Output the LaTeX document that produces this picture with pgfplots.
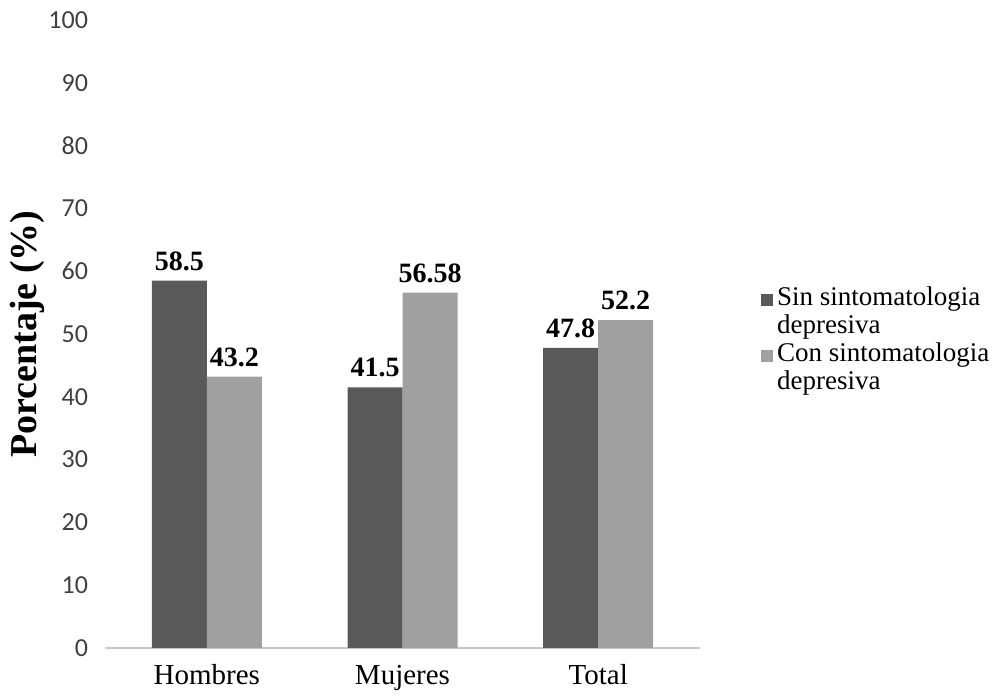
\documentclass[border=0pt]{standalone}
\usepackage{pgfplots}
\pgfplotsset{compat=1.18}
\usepackage{fontspec}
\setmainfont{Liberation Serif}
\newfontfamily\tickfont{Carlito}
\definecolor{darkbar}{HTML}{595959}
\definecolor{lightbar}{HTML}{A0A0A0}
\definecolor{axisgray}{HTML}{C8C8C8}
\definecolor{ticktext}{HTML}{404040}
\begin{document}
\begin{tikzpicture}
\path[use as bounding box] (-52.5pt,-25.5pt) rectangle (451pt,324pt);
\begin{axis}[
  at={(0pt,0pt)}, anchor=south west,
  scale only axis,
  width=297.5pt, height=314pt,
  xmin=-0.52, xmax=2.52,
  ymin=0, ymax=100,
  ytick={0,10,...,100},
  xtick={0,1,2},
  xticklabels={Hombres,Mujeres,Total},
  axis x line*=bottom,
  axis y line*=left,
  y axis line style={draw=none},
  x axis line style={draw=axisgray, line width=0.8pt, -},
  major tick length=0pt,
  tick style={draw=none},
  yticklabel style={font=\tickfont\fontsize{13}{15}\selectfont, text=ticktext, xshift=-5pt},
  xticklabel style={font=\fontsize{14.5}{16}\selectfont, anchor=base, yshift=-18.5pt},
  /pgf/number format/assume math mode=true,
  ylabel={\textbf{Porcentaje (\%)}},
  ylabel style={font=\fontsize{19}{22}\selectfont, at={(axis description cs:-0.13,0.5)}, anchor=center},
  ybar=0pt, bar width=27.5pt,
  nodes near coords,
  point meta=explicit symbolic,
  nodes near coords style={font=\bfseries\fontsize{14}{16}\selectfont, anchor=south, yshift=1.5pt},
  legend style={at={(axis description cs:1.092,0.588)}, anchor=north west, draw=none, fill=none,
    font=\fontsize{13.5}{14}\selectfont, cells={anchor=west, align=left}, row sep=-1pt},
  legend image code/.code={\fill[#1] (0pt,3pt) rectangle (6pt,9pt);},
]
\addplot[fill=darkbar, draw=none] coordinates {(0,58.5) [58.5] (1,41.5) [41.5] (2,47.8) [47.8]};
\addplot[fill=lightbar, draw=none] coordinates {(0,43.2) [43.2] (1,56.58) [56.58] (2,52.2) [52.2]};
\legend{Sin sintomatologia\\depresiva, Con sintomatologia\\depresiva}
\end{axis}
\end{tikzpicture}
\end{document}
